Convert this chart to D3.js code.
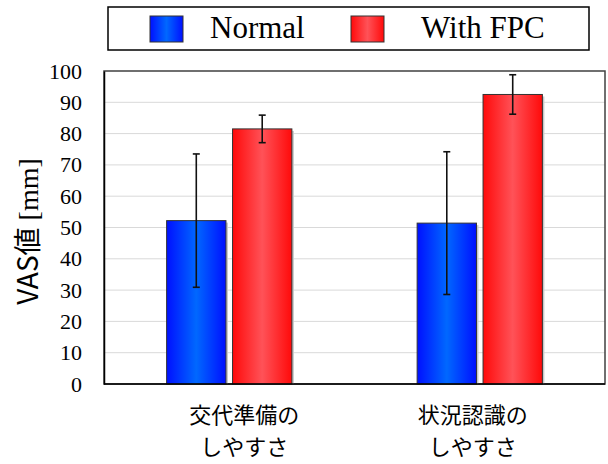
<!DOCTYPE html>
<html>
<head>
<meta charset="utf-8">
<script src="https://cdn.jsdelivr.net/npm/d3@7"></script>
<style>
  body { margin: 0; background: #fff; }
  svg { display: block; }
</style>
</head>
<body>
<div id="chart"></div>
<script>
// data
const categories = [["交代準備の", "しやすさ"], ["状況認識の", "しやすさ"]];
const seriesNames = ["Normal", "With FPC"];
const normalMean = [52.2, 51.4];
const normalErr = [21.3, 22.8];
const fpcMean = [81.5, 92.5];
const fpcErr = [4.4, 6.3];
const yTicks = [0, 10, 20, 30, 40, 50, 60, 70, 80, 90, 100];

const width = 608, height = 464;
const margin = { top: 71, right: 3, bottom: 80, left: 104 };
const serif = "'Liberation Serif', 'Times New Roman', serif";
const cjk = "'Noto Sans CJK JP', 'Noto Sans', sans-serif";

const svg = d3.select("#chart").append("svg")
  .attr("width", width)
  .attr("height", height);

// gradients for the bars
const defs = svg.append("defs");
const gradInfo = [
  { id: "gBlue", edge: "#0010ff", mid: "#0068ff" },
  { id: "gRed", edge: "#ff0a0a", mid: "#ff5258" },
];
gradInfo.forEach(g => {
  const lg = defs.append("linearGradient").attr("id", g.id)
    .attr("x1", "0%").attr("x2", "100%").attr("y1", "0%").attr("y2", "0%");
  lg.append("stop").attr("offset", "0%").attr("stop-color", g.edge);
  lg.append("stop").attr("offset", "50%").attr("stop-color", g.mid);
  lg.append("stop").attr("offset", "100%").attr("stop-color", g.edge);
});
const fills = ["url(#gBlue)", "url(#gRed)"];

const x0 = d3.scaleBand()
  .domain(d3.range(categories.length))
  .range([margin.left, width - margin.right])
  .padding(0);

const x1 = d3.scaleBand()
  .domain(d3.range(seriesNames.length))
  .range([0, x0.bandwidth() * 0.5])
  .paddingInner(0.1);

const y = d3.scaleLinear()
  .domain([0, 100])
  .range([height - margin.bottom, margin.top]);

// gridlines
svg.append("g")
  .selectAll("line")
  .data(yTicks.filter(t => t > 0 && t < 100))
  .join("line")
  .attr("x1", margin.left)
  .attr("x2", width - margin.right)
  .attr("y1", d => y(d))
  .attr("y2", d => y(d))
  .attr("stroke", "#d9d9d9")
  .attr("stroke-width", 1);

// plot frame
svg.append("rect")
  .attr("x", margin.left)
  .attr("y", margin.top)
  .attr("width", width - margin.left - margin.right)
  .attr("height", height - margin.top - margin.bottom)
  .attr("fill", "none")
  .attr("stroke", "#404040")
  .attr("stroke-width", 1.5);

// y axis labels
const yAxis = svg.append("g")
  .attr("transform", `translate(${margin.left},0)`)
  .call(d3.axisLeft(y).tickValues(yTicks).tickSize(0).tickPadding(22));
yAxis.attr("font-family", null).attr("font-size", null);
yAxis.select(".domain").attr("stroke", "#000").attr("stroke-width", 1.5);
yAxis.selectAll("text")
  .style("font-family", serif)
  .style("font-size", "22px")
  .attr("fill", "#000");

// bars
const rows = categories.map((c, i) => [
  { s: 0, v: normalMean[i], e: normalErr[i] },
  { s: 1, v: fpcMean[i], e: fpcErr[i] },
]);

const groupOffset = (x0.bandwidth() - x0.bandwidth() * 0.5) / 2;
const groups = svg.append("g")
  .selectAll("g")
  .data(rows)
  .join("g")
  .attr("transform", (d, i) => `translate(${x0(i) + groupOffset},0)`);

groups.selectAll("rect.shadow")
  .data(d => d)
  .join("rect")
  .attr("class", "shadow")
  .attr("x", d => x1(d.s) + 2)
  .attr("y", d => y(d.v) + 2)
  .attr("width", x1.bandwidth())
  .attr("height", d => y(0) - y(d.v) - 2)
  .attr("fill", "#c8c8c8");

groups.selectAll("rect.bar")
  .data(d => d)
  .join("rect")
  .attr("class", "bar")
  .attr("x", d => x1(d.s))
  .attr("y", d => y(d.v))
  .attr("width", x1.bandwidth())
  .attr("height", d => y(0) - y(d.v))
  .attr("fill", d => fills[d.s])
  .attr("stroke", "#333")
  .attr("stroke-width", 1);

// error bars
const eb = groups.selectAll("g.err")
  .data(d => d)
  .join("g")
  .attr("class", "err")
  .attr("stroke", "#111")
  .attr("stroke-width", 1.6);
eb.append("line")
  .attr("x1", d => x1(d.s) + x1.bandwidth() / 2)
  .attr("x2", d => x1(d.s) + x1.bandwidth() / 2)
  .attr("y1", d => y(d.v + d.e))
  .attr("y2", d => y(d.v - d.e));
[1, -1].forEach(sign => {
  eb.append("line")
    .attr("x1", d => x1(d.s) + x1.bandwidth() / 2 - 3.5)
    .attr("x2", d => x1(d.s) + x1.bandwidth() / 2 + 3.5)
    .attr("y1", d => y(d.v + sign * d.e))
    .attr("y2", d => y(d.v + sign * d.e));
});

// bottom axis line
svg.append("line")
  .attr("x1", margin.left).attr("x2", width - margin.right)
  .attr("y1", y(0)).attr("y2", y(0))
  .attr("stroke", "#000").attr("stroke-width", 1.5);

// category labels, one text per line
const labelShift = [15, -7];
const labelLines = [];
categories.forEach((c, i) => c.forEach((line, j) => labelLines.push({ i, j, line })));
svg.append("g")
  .selectAll("text")
  .data(labelLines)
  .join("text")
  .attr("x", d => x0(d.i) + x0.bandwidth() / 2 + labelShift[d.i])
  .attr("y", d => 423 + d.j * 32)
  .attr("text-anchor", "middle")
  .attr("font-family", cjk)
  .attr("font-size", 22)
  .attr("fill", "#000")
  .text(d => d.line);

// y axis title
const yTitle = svg.append("text")
  .attr("transform", `translate(38,${(margin.top + height - margin.bottom) / 2 + 4}) rotate(-90)`)
  .attr("text-anchor", "middle")
  .attr("font-size", 28)
  .attr("fill", "#000");
yTitle.append("tspan").attr("font-family", cjk).text("VAS値");
yTitle.append("tspan").attr("font-family", serif).text(" [mm]");

// legend
const legend = svg.append("g");
legend.append("rect")
  .attr("x", 108).attr("y", 7)
  .attr("width", 481).attr("height", 43)
  .attr("fill", "#fff")
  .attr("stroke", "#000")
  .attr("stroke-width", 1.5);
const legendX = [150, 351];
const item = legend.selectAll("g.item")
  .data(seriesNames)
  .join("g")
  .attr("class", "item")
  .attr("transform", (d, i) => `translate(${legendX[i]},16)`);
item.append("rect")
  .attr("width", 33).attr("height", 26)
  .attr("fill", (d, i) => fills[i])
  .attr("stroke", "#333")
  .attr("stroke-width", 1);
item.append("text")
  .attr("x", (d, i) => i === 0 ? 60 : 70)
  .attr("y", 22)
  .attr("font-family", serif)
  .attr("font-size", 31)
  .attr("fill", "#000")
  .text(d => d);
</script>
</body>
</html>
